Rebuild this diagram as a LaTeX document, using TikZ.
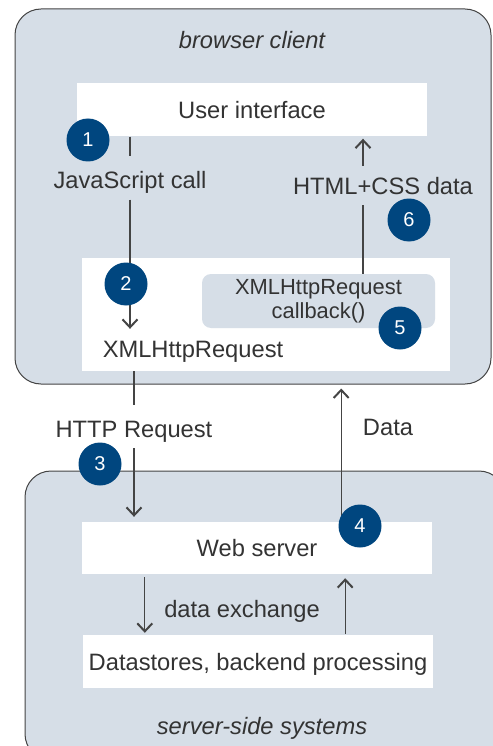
\documentclass[tikz,border=0pt]{standalone}
\usepackage{fontspec}
\setmainfont{Liberation Sans}
\usepackage{tikz}
\usetikzlibrary{positioning,arrows.meta}

\definecolor{panel}{RGB}{214,222,231}
\definecolor{stepblue}{RGB}{0,70,127}
\definecolor{ink}{RGB}{51,51,51}
\definecolor{wire}{RGB}{68,68,68}

\tikzset{
  big/.style={font=\fontsize{23.7}{28}\selectfont},
  panelbox/.style={draw=wire, line width=1pt, fill=panel, rounded corners=26pt},
  whitebox/.style={fill=white, inner sep=0pt, text=ink, big, text height=17pt, text depth=0pt},
  lbl/.style={text=ink, big, text height=17pt, text depth=0pt, inner xsep=2pt, inner ysep=11pt},
  ttl/.style={text=ink, font=\fontsize{23.7}{28}\selectfont\itshape},
  num/.style={circle, fill=stepblue, text=white, minimum size=43pt, inner sep=0pt, font=\fontsize{20}{24}\selectfont},
  wireline/.style={draw=wire, line width=1.2pt},
  arr/.style={wireline, -{Straight Barb[length=8pt,width=15pt,line width=2pt]}},
}

\begin{document}
\begin{tikzpicture}[x=1pt,y=-1pt]
\useasboundingbox (0,0) rectangle (492,746);

\node (client) at (253,196.5) [panelbox, minimum width=476pt, minimum height=375pt] {};
\node (server) at (265,615.5) [panelbox, minimum width=480pt, minimum height=289pt] {};
\node (client_title) at (252,40) [ttl] {browser client};
\node (server_title) at (262,728) [ttl] {server-side systems};

\node (ui) at (252,110) [whitebox, minimum width=350pt, minimum height=53pt] {User interface};
\node (xhrbox) at (266,314.5) [whitebox, minimum width=368pt, minimum height=113pt] {};
\node (cb) at (318.5,301) [fill=panel, rounded corners=9pt, minimum width=233pt, minimum height=54pt, inner sep=0pt, text=ink, align=center, font=\fontsize{21.9}{24}\selectfont] {XMLHttpRequest\\callback()};
\node (ws) at (257,548) [whitebox, minimum width=350pt, minimum height=52pt] {Web server};
\node (ds) at (258,661.5) [whitebox, minimum width=350pt, minimum height=53pt] {Datastores, backend processing};

\node (jscall) at (130,180) [lbl] {JavaScript call};
\node (html) at (383,185.5) [lbl] {HTML+CSS data};
\node (xhr) at (193,348.5) [lbl] {XMLHttpRequest};
\node (http) at (134,428.5) [lbl] {HTTP Request};
\node (data) at (388,426.5) [lbl] {Data};
\node (dx) at (242,608.5) [lbl] {data exchange};

\draw [wireline, shorten >=4pt] (ui.south -| jscall.north) -- (jscall.north);
\draw [arr] (jscall.south) -- (jscall.south |- xhr.north);
\draw [wireline] ([xshift=-20pt]html.south |- cb.north) -- ([xshift=-20pt]html.south);
\draw [arr, shorten >=2pt] ([xshift=-20pt]html.north) -- ([xshift=-20pt]html.north |- ui.south);
\draw [wireline, shorten >=4pt] (xhrbox.south -| http.north) -- (http.north);
\draw [arr, shorten >=5pt] (http.south) -- (http.south |- ws.north);
\draw [arr, shorten >=4pt] ([xshift=-91pt]ws.north east) -- ([xshift=-91pt]ws.north east |- client.south);
\draw [arr, shorten <=3pt, shorten >=2pt] ([xshift=63pt]ws.south west) -- ([xshift=63pt]ws.south west |- ds.north);
\draw [arr, shorten <=1pt, shorten >=4pt] ([xshift=-88pt]ds.north east) -- ([xshift=-88pt]ds.north east |- ws.south);

\node (step1) at (88,140) [num] {1};
\node (step2) at (126,284) [num] {2};
\node (step3) at (100,464) [num] {3};
\node (step4) at (360,526) [num] {4};
\node (step5) at (400,328) [num] {5};
\node (step6) at (409,220) [num] {6};

\end{tikzpicture}
\end{document}
